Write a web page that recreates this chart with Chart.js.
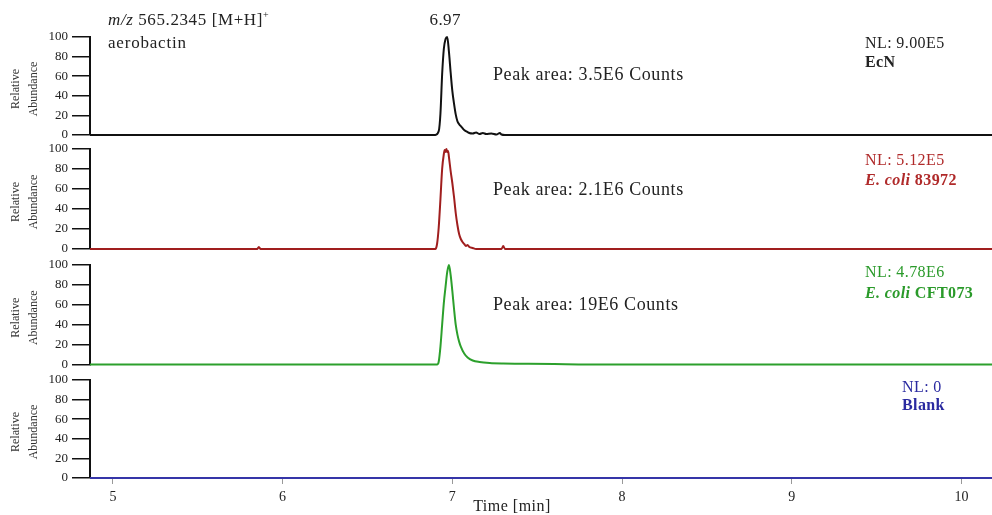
<!DOCTYPE html>
<html>
<head>
<meta charset="utf-8">
<title>Aerobactin EIC</title>
<style>
  html, body { margin: 0; padding: 0; background: #fff; }
  #wrap { position: relative; width: 992px; height: 515px; }
  #wrap canvas { position: absolute; left: 0; top: 0; }
</style>
</head>
<body>
<div id="wrap">
  <canvas id="p1" width="992" height="515"></canvas>
  <canvas id="p2" width="992" height="515"></canvas>
  <canvas id="p3" width="992" height="515"></canvas>
  <canvas id="p4" width="992" height="515"></canvas>
</div>

<script src="https://cdn.jsdelivr.net/npm/chart.js"></script>
<script>
// retention time axis (min)
var timeMin = 4.865, timeMax = 10.18;
var timeTicks = [5, 6, 7, 8, 9, 10];
var abundanceTicks = [0, 20, 40, 60, 80, 100];

// EcN trace
var timeEcN = [4.865, 6.90, 6.92, 6.93, 6.94, 6.95, 6.96, 6.97, 6.98, 6.99, 7.00, 7.01, 7.02, 7.03, 7.04,
  7.05, 7.06, 7.07, 7.08, 7.09, 7.10, 7.12, 7.14, 7.16, 7.18, 7.20, 7.23, 7.26, 7.28, 7.29, 7.31, 10.18];
var abundEcN = [0, 0, 4, 22, 62, 88, 98, 100, 85, 64, 45, 32, 21, 14, 11,
  9, 7, 5, 4, 3, 2, 1.5, 2.5, 1, 2, 1, 1.5, 0.5, 2, 0.5, 0, 0];

// E. coli 83972 trace
var time83972 = [4.865, 5.85, 5.86, 5.87, 6.90, 6.91, 6.92, 6.93, 6.94, 6.95, 6.955, 6.96, 6.965, 6.97,
  6.975, 6.98, 6.99, 7.00, 7.01, 7.02, 7.03, 7.04, 7.05, 7.06, 7.07, 7.08, 7.09, 7.10, 7.12, 7.14,
  7.29, 7.30, 7.31, 10.18];
var abund83972 = [0, 0, 2, 0, 0, 5, 22, 50, 80, 95, 99, 97, 100, 97,
  98, 92, 78, 66, 52, 36, 24, 15, 10, 7, 5, 3, 4, 2, 1, 0,
  0, 3, 0, 0];

// E. coli CFT073 trace
var timeCFT073 = [4.865, 6.91, 6.92, 6.93, 6.94, 6.95, 6.96, 6.97, 6.98, 6.99, 7.00, 7.01, 7.02, 7.03,
  7.04, 7.05, 7.07, 7.09, 7.12, 7.16, 7.22, 7.30, 7.45, 7.60, 7.80, 10.18];
var abundCFT073 = [0, 0, 3, 18, 40, 62, 78, 93, 100, 90, 74, 56, 40, 30,
  23, 18, 11, 7, 4, 2.5, 1.5, 1, 0.7, 0.4, 0, 0];

// blank trace
var timeBlank = [4.865, 10.18];
var abundBlank = [0, 0];

var SERIF = '"Liberation Serif", "Times New Roman", serif';

var panels = [
  { id: 'p1', top: 37, bottom: 135, color: '#111111', text: '#222222',
    t: timeEcN, a: abundEcN, nl: 'NL: 9.00E5', name: [['EcN', 'bold']], nlX: 865, nlY: 48, nameY: 67,
    area: 'Peak area: 3.5E6 Counts', areaY: 80 },
  { id: 'p2', top: 149, bottom: 249, color: '#a01e1e', text: '#b02a2a',
    t: time83972, a: abund83972, nl: 'NL: 5.12E5', name: [['E. coli ', 'italic bold'], ['83972', 'bold']],
    nlX: 865, nlY: 165, nameY: 185, area: 'Peak area: 2.1E6 Counts', areaY: 195 },
  { id: 'p3', top: 265, bottom: 364.5, color: '#2ca02c', text: '#2a9a2a',
    t: timeCFT073, a: abundCFT073, nl: 'NL: 4.78E6', name: [['E. coli ', 'italic bold'], ['CFT073', 'bold']],
    nlX: 865, nlY: 277, nameY: 298, area: 'Peak area: 19E6 Counts', areaY: 310 },
  { id: 'p4', top: 380, bottom: 478, color: '#3535a8', text: '#2a2aa0',
    t: timeBlank, a: abundBlank, nl: 'NL: 0', name: [['Blank', 'bold']], nlX: 902, nlY: 392, nameY: 410,
    area: null, areaY: 0 }
];

function spacing(ctx, px) {
  if ('letterSpacing' in ctx) ctx.letterSpacing = px + 'px';
}

// text drawn on top of each trace panel
function notesPlugin(p, idx) {
  return {
    id: 'notes' + idx,
    afterDraw: function (chart) {
      var ctx = chart.ctx;
      var area = chart.chartArea;
      ctx.save();
      ctx.textBaseline = 'alphabetic';

      // y-axis title, two rotated lines
      var cy = (area.top + area.bottom) / 2 + 3;
      ctx.fillStyle = '#333';
      ctx.font = '12px ' + SERIF;
      ctx.textAlign = 'center';
      ctx.save();
      ctx.translate(19, cy);
      ctx.rotate(-Math.PI / 2);
      ctx.fillText('Relative', 0, 0);
      ctx.restore();
      ctx.save();
      ctx.translate(37, cy);
      ctx.rotate(-Math.PI / 2);
      ctx.fillText('Abundance', 0, 0);
      ctx.restore();

      // NL and sample name
      ctx.textAlign = 'left';
      ctx.fillStyle = p.text;
      spacing(ctx, 0.4);
      ctx.font = '16px ' + SERIF;
      ctx.fillText(p.nl, p.nlX, p.nlY);
      var x = p.nlX;
      p.name.forEach(function (part) {
        ctx.font = part[1] + ' 16px ' + SERIF;
        ctx.fillText(part[0], x, p.nameY);
        x += ctx.measureText(part[0]).width;
      });

      // peak area
      if (p.area) {
        ctx.fillStyle = '#222';
        spacing(ctx, 0.6);
        ctx.font = '18px ' + SERIF;
        ctx.fillText(p.area, 493, p.areaY);
      }

      if (idx === 0) {
        // ion label
        ctx.fillStyle = '#222';
        spacing(ctx, 0.6);
        ctx.font = 'italic 17px ' + SERIF;
        ctx.fillText('m/z', 108, 25);
        var w = ctx.measureText('m/z ').width;
        ctx.font = '17px ' + SERIF;
        ctx.fillText('565.2345 [M+H]', 108 + w, 25);
        w += ctx.measureText('565.2345 [M+H]').width;
        ctx.font = '10px ' + SERIF;
        ctx.fillText('+', 108 + w, 18);
        spacing(ctx, 0.8);
        ctx.font = '17px ' + SERIF;
        ctx.fillText('aerobactin', 108, 48);

        // apex retention time
        var xs = chart.scales.x;
        spacing(ctx, 0.4);
        ctx.textAlign = 'center';
        ctx.fillText('6.97', xs.getPixelForValue(6.97) - 2, 25);
      }

      if (idx === 3) {
        ctx.fillStyle = '#222';
        spacing(ctx, 0.5);
        ctx.font = '16px ' + SERIF;
        ctx.textAlign = 'center';
        ctx.fillText('Time [min]', 512, 511);
      }
      ctx.restore();
    }
  };
}

panels.forEach(function (p, idx) {
  var last = idx === panels.length - 1;
  var pts = p.t.map(function (t, i) { return { x: t, y: p.a[i] }; });

  new Chart(document.getElementById(p.id).getContext('2d'), {
    type: 'line',
    data: {
      datasets: [{
        data: pts,
        borderColor: p.color,
        borderWidth: 2,
        pointRadius: 0,
        fill: false,
        clip: 4,
        cubicInterpolationMode: 'monotone'
      }]
    },
    options: {
      responsive: false,
      animation: false,
      events: [],
      layout: { padding: { top: p.top, bottom: last ? 0 : 515 - p.bottom, left: 0, right: 0 } },
      plugins: { legend: { display: false }, tooltip: { enabled: false } },
      scales: {
        x: {
          type: 'linear',
          display: last,
          min: timeMin,
          max: timeMax,
          afterFit: function (s) { s.height = last ? 37 : 0; },
          afterBuildTicks: function (s) { s.ticks = timeTicks.map(function (v) { return { value: v }; }); },
          ticks: { color: '#222', font: { family: SERIF, size: 14 }, padding: 5, maxRotation: 0, autoSkip: false },
          grid: { drawOnChartArea: false, drawTicks: true, tickLength: 6, color: '#999', lineWidth: 1 },
          border: { display: false }
        },
        y: {
          min: 0,
          max: 100,
          afterFit: function (s) { s.width = 90; },
          afterBuildTicks: function (s) { s.ticks = abundanceTicks.map(function (v) { return { value: v }; }); },
          ticks: { color: '#222', font: { family: SERIF, size: 13 }, padding: 4, autoSkip: false },
          grid: { drawOnChartArea: false, drawTicks: true, tickLength: 18, color: '#111', lineWidth: 1.5 },
          border: { display: true, color: '#111', width: 2 }
        }
      }
    },
    plugins: [notesPlugin(p, idx)]
  });
});
</script>
</body>
</html>
